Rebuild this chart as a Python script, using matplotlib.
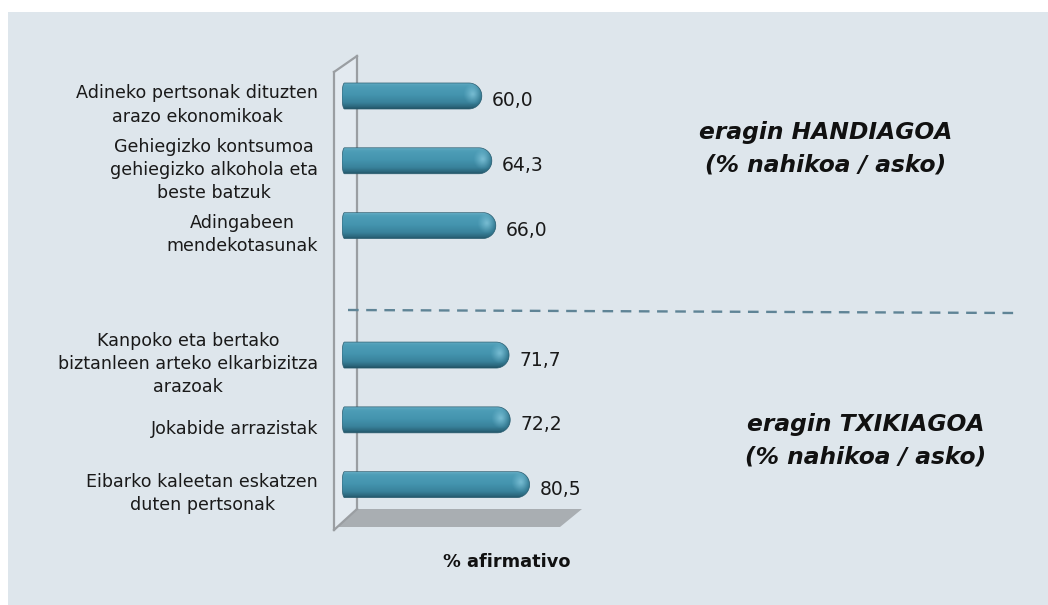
import numpy as np
import matplotlib
matplotlib.use("Agg")
import matplotlib.pyplot as plt
from matplotlib.patches import Rectangle, Polygon, PathPatch
from matplotlib.path import Path
from matplotlib.lines import Line2D
from matplotlib.colors import LinearSegmentedColormap
import matplotlib.transforms as mtransforms

# ---------------- data ----------------
categories = [
    "Adineko pertsonak dituzten\narazo ekonomikoak",
    "Gehiegizko kontsumoa\ngehiegizko alkohola eta\nbeste batzuk",
    "Adingabeen\nmendekotasunak",
    "Kanpoko eta bertako\nbiztanleen arteko elkarbizitza\narazoak",
    "Jokabide arrazistak",
    "Eibarko kaleetan eskatzen\nduten pertsonak",
]
values = [60.0, 64.3, 66.0, 71.7, 72.2, 80.5]
groups = ["HANDIAGOA", "HANDIAGOA", "HANDIAGOA", "TXIKIAGOA", "TXIKIAGOA", "TXIKIAGOA"]
value_labels = [f"{v:.1f}".replace(".", ",") for v in values]
group_titles = ["eragin HANDIAGOA\n(% nahikoa / asko)", "eragin TXIKIAGOA\n(% nahikoa / asko)"]
axis_title = "% afirmativo"

# ---------------- figure ----------------
W, H = 1048, 605
fig = plt.figure(figsize=(W / 100, H / 100), dpi=100)
fig.patch.set_facecolor("white")

def fx(px):
    return px / W

def fy(py):
    return 1 - py / H

# panel background
fig.patches.append(Rectangle((fx(8), 0), 1 - fx(8), fy(12), transform=fig.transFigure,
                             facecolor="#DEE6EC", edgecolor="none", zorder=-10))

# axes: x 0..100 over 233 px, y categories
ax_left, ax_right = 342, 575
ax_top, ax_bot = 63.6, 517
ax = fig.add_axes([fx(ax_left), fy(ax_bot), fx(ax_right - ax_left), (ax_bot - ax_top) / H])
ax.set_zorder(10)
ax.set_facecolor("none")
ax.axis("off")

# positions: gap between groups
pos = []
p = 0
for i, g in enumerate(groups):
    if i > 0 and g != groups[i - 1]:
        p += 1
    pos.append(p)
    p += 1
ymin, ymax = -0.5, pos[-1] + 0.5
xmin, xmax = 0, 100

# ---------------- 3D walls (decoration) ----------------
wall_c = "#9A9EA2"
side = Polygon([(fx(334), fy(72)), (fx(357), fy(56)), (fx(357), fy(509)), (fx(334), fy(529))],
               closed=True, transform=fig.transFigure, facecolor="#E3EAF0", edgecolor="none", zorder=1)
fig.patches.append(side)
floor = Polygon([(fx(357), fy(509)), (fx(582), fy(509)), (fx(560), fy(527)), (fx(338), fy(527))],
                closed=True, transform=fig.transFigure, facecolor="#A9AEB2", edgecolor="none", zorder=1)
fig.patches.append(floor)
for xs, ys in [([334, 334], [72, 530]), ([357, 357], [56, 509]), ([334, 357], [72, 56]), ([334, 357], [530, 509])]:
    fig.lines.append(Line2D([fx(x) for x in xs], [fy(y) for y in ys], transform=fig.transFigure,
                            color=wall_c, lw=1.6, zorder=2))

# dashed separator
fig.lines.append(Line2D([fx(348), fx(1014)], [fy(310), fy(313)], transform=fig.transFigure,
                        color="#5F8496", lw=1.7, dashes=(4.5, 3.2), zorder=2))

# ---------------- bars ----------------
bbox = ax.get_window_extent()
px_per_x = bbox.width / (xmax - xmin)
px_per_y = bbox.height / (ymax - ymin)
bar_h = 26 / px_per_y
cap_r = 13 / px_per_x
left_r = 2.5 / px_per_x

cmap = LinearSegmentedColormap.from_list("cyl", [
    (0.0, "#62ABC2"), (0.1, "#4E9EB7"), (0.45, "#4494AE"), (0.75, "#39829B"),
    (0.92, "#2B667B"), (1.0, "#1F4F60")])
grad = np.linspace(0, 1, 128).reshape(-1, 1)

for v, y in zip(values, pos):
    t = np.linspace(-np.pi / 2, np.pi / 2, 40)
    top, bot = y - bar_h / 2, y + bar_h / 2
    xs = list(v - cap_r + cap_r * np.cos(t)) + list(left_r - left_r * np.cos(t[::-1]))
    ys = list(y + (bar_h / 2) * np.sin(t)) + list(y + (bar_h / 2) * np.sin(t[::-1]))
    verts = np.column_stack([xs, ys])
    path = Path(np.vstack([verts, verts[:1]]), closed=True)
    patch = PathPatch(path, facecolor="none", edgecolor="#2A5E71", lw=0.5, zorder=4)
    ax.add_patch(patch)
    im = ax.imshow(grad, cmap=cmap, aspect="auto", extent=(0, v, bot, top), zorder=3,
                   interpolation="bilinear")
    im.set_clip_path(patch)
    # soft highlight near cap
    hx = np.linspace(-1, 1, 64)
    HX, HY = np.meshgrid(hx, hx)
    rr = np.sqrt(HX ** 2 + HY ** 2)
    rgba = np.zeros((64, 64, 4))
    rgba[..., 0], rgba[..., 1], rgba[..., 2] = 0.55, 0.80, 0.88
    rgba[..., 3] = np.clip(1 - rr, 0, 1) ** 1.2 * 0.75
    cx, cy = v - cap_r * 0.7, y - bar_h * 0.08
    hw, hh = cap_r * 0.75, bar_h * 0.42
    im2 = ax.imshow(rgba, aspect="auto", extent=(cx - hw, cx + hw, cy + hh, cy - hh), zorder=3.5,
                    interpolation="bilinear")
    im2.set_clip_path(patch)
    # darkening at right end of cap
    shade = np.zeros((32, 64, 4))
    shade[..., 0], shade[..., 1], shade[..., 2] = 0.10, 0.30, 0.38
    shade[..., 3] = np.linspace(0, 1, 64)[None, :] ** 3 * 0.4
    im3 = ax.imshow(shade, aspect="auto", extent=(v - cap_r, v, bot, top), zorder=3.6,
                    interpolation="bilinear")
    im3.set_clip_path(patch)

ax.set_xlim(xmin, xmax)
ax.set_ylim(ymax, ymin)

# ---------------- labels ----------------
font = "DejaVu Sans"
txt_c = "#1A1A1A"
for lab, y in zip(categories, pos):
    tr = mtransforms.offset_copy(ax.transData, fig=fig, x=-24, y=-9, units="dots")
    ax.text(0, y, lab, transform=tr, ha="right", va="center", multialignment="center",
            fontsize=12.6, family=font, color=txt_c, linespacing=1.36, clip_on=False)

for v, y, lab in zip(values, pos, value_labels):
    tr = mtransforms.offset_copy(ax.transData, fig=fig, x=10, y=-5, units="dots")
    ax.text(v, y, lab, transform=tr, ha="left", va="center", fontsize=13.5, family=font,
            color=txt_c, clip_on=False)

fig.text(fx(826), fy(149), group_titles[0], ha="center", va="center", multialignment="center",
         fontsize=16.8, fontweight="bold", fontstyle="italic", family=font, color="#111111", linespacing=1.5)
fig.text(fx(866), fy(441), group_titles[1], ha="center", va="center", multialignment="center",
         fontsize=16.8, fontweight="bold", fontstyle="italic", family=font, color="#111111", linespacing=1.5)
fig.text(fx(507), fy(562), axis_title, ha="center", va="center", fontsize=12.8, fontweight="bold",
         family=font, color="#111111")

fig.savefig("out.png", dpi=100)
